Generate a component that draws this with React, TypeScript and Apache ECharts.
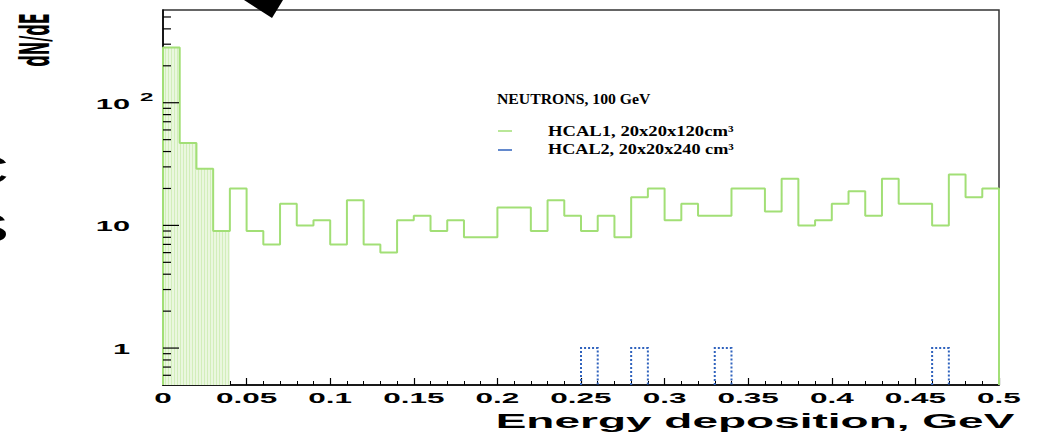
import React, { useEffect, useRef } from 'react';
import * as echarts from 'echarts';

// ---- data ----
const binWidth = 0.01;
const hcal1Counts = [
  282, 47, 29, 9, 20, 9, 7, 15, 10, 11,
  7, 16, 7, 6, 11, 12, 9, 11, 8, 8,
  14, 14, 9, 16, 12, 9, 12, 8, 17, 20,
  11, 15, 12, 12, 20, 20, 13, 24, 10, 11,
  15, 19, 12, 24, 15, 15, 10, 26, 17, 20,
];
const hcal2Counts = [
  0, 0, 0, 0, 0, 0, 0, 0, 0, 0,
  0, 0, 0, 0, 0, 0, 0, 0, 0, 0,
  0, 0, 0, 0, 0, 1, 0, 0, 1, 0,
  0, 0, 0, 1, 0, 0, 0, 0, 0, 0,
  0, 0, 0, 0, 0, 0, 1, 0, 0, 0,
];
const filledBins = 4;
const xTickValues = [0, 0.05, 0.1, 0.15, 0.2, 0.25, 0.3, 0.35, 0.4, 0.45, 0.5];
const xTickLabels = ['0', '0.05', '0.1', '0.15', '0.2', '0.25', '0.3', '0.35', '0.4', '0.45', '0.5'];
const yTickValues = [1, 10, 100];
const yTickLabels = ['1', '10', '10'];
const yTickSup = ['', '', '2'];
const yMinorTicks = [0.6, 0.7, 0.8, 0.9, 2, 3, 4, 5, 6, 7, 8, 9, 20, 30, 40, 50, 60, 70, 80, 90, 200, 300, 400, 500];
const xMin = 0;
const xMax = 0.5;
const yMin = 0.5;
const yMax = 570;
const titleText = 'NEUTRONS, 100 GeV';
const legendNames = ['HCAL1, 20x20x120cm³', 'HCAL2, 20x20x240 cm³'];
const xAxisTitle = 'Energy deposition, GeV';
const yAxisTitle = 'dN/dE';

const GREEN = '#a2df76';
const BLUE = '#2f62bd';
const SANS = '"Liberation Sans", Arial, sans-serif';
const SERIF = '"Liberation Serif", "Times New Roman", serif';

function outline(counts: number[], n: number) {
  const pts: number[][] = [[0, yMin]];
  for (let i = 0; i < n; i++) {
    pts.push([i * binWidth, counts[i]], [(i + 1) * binWidth, counts[i]]);
  }
  pts.push([n * binWidth, yMin]);
  return pts;
}

function makePattern() {
  const c = document.createElement('canvas');
  c.width = 3;
  c.height = 4;
  const ctx = c.getContext('2d')!;
  ctx.fillStyle = '#eaf7df';
  ctx.fillRect(0, 0, 3, 4);
  ctx.fillStyle = '#d2eebb';
  ctx.fillRect(0, 0, 1, 4);
  return c;
}

export default function App() {
  const ref = useRef<HTMLDivElement>(null);
  useEffect(() => {
    if (!ref.current) return;
    const chart = echarts.init(ref.current, undefined, { renderer: 'svg' });
    const blueBins = hcal2Counts
      .map((c, i) => [i * binWidth, (i + 1) * binWidth, c])
      .filter((d) => d[2] > 0);

    chart.setOption({
      animation: false,
      backgroundColor: '#fff',
      grid: {
        left: 163, right: 39, top: 10, bottom: 55,
        show: true, borderColor: '#333', borderWidth: 1.5,
      },
      xAxis: {
        type: 'value', min: xMin, max: xMax, interval: 0.05,
        axisLine: { lineStyle: { color: '#000', width: 1.5 } },
        axisTick: { inside: true, length: 7, lineStyle: { color: '#000', width: 1.2 } },
        minorTick: { show: true, splitNumber: 5, length: 4, lineStyle: { color: '#000', width: 1 } },
        axisLabel: { show: false },
        splitLine: { show: false },
      },
      yAxis: {
        type: 'log', logBase: 10, min: yMin, max: yMax,
        axisLine: { show: true, lineStyle: { color: '#000', width: 1.5 } },
        axisTick: { show: false },
        axisLabel: { show: false },
        splitLine: { show: false },
      },
      series: [
        {
          name: 'fill', type: 'line', data: outline(hcal1Counts, filledBins),
          showSymbol: false, symbol: 'none',
          lineStyle: { width: 0, opacity: 0 },
          areaStyle: { origin: 'start', color: { image: makePattern(), repeat: 'repeat' }, opacity: 1 },
          z: 2, silent: true,
        },
        {
          name: legendNames[0], type: 'line', data: outline(hcal1Counts, hcal1Counts.length),
          showSymbol: false, symbol: 'none',
          lineStyle: { color: GREEN, width: 2 }, z: 3,
        },
        {
          name: legendNames[1], type: 'custom', coordinateSystem: 'cartesian2d',
          data: blueBins, clip: false, z: 4,
          renderItem: (params: any, api: any) => {
            const x0 = api.value(0), x1 = api.value(1), v = api.value(2);
            const a = api.coord([x0, yMin]);
            const b = api.coord([x0, v]);
            const c = api.coord([x1, v]);
            const d = api.coord([x1, yMin]);
            return {
              type: 'polyline',
              shape: { points: [a, b, c, d] },
              style: { stroke: BLUE, lineWidth: 2, lineDash: [2, 2], fill: null },
            };
          },
        },
        {
          name: 'ytickmarks', type: 'custom', coordinateSystem: 'cartesian2d',
          data: [...yTickValues.map((v) => [xMin, v, 16]), ...yMinorTicks.map((v) => [xMin, v, 8])],
          clip: false, z: 6, silent: true,
          renderItem: (params: any, api: any) => {
            const p = api.coord([api.value(0), api.value(1)]);
            const len = api.value(2);
            return {
              type: 'line',
              shape: { x1: p[0], y1: p[1], x2: p[0] + len, y2: p[1] },
              style: { stroke: '#000', lineWidth: 1.2 },
            };
          },
        },
        {
          name: 'xlabels', type: 'custom', coordinateSystem: 'cartesian2d',
          data: xTickValues.map((v) => [v, yMin]), clip: false, z: 6, silent: true,
          renderItem: (params: any, api: any) => {
            const i = params.dataIndex;
            const p = api.coord([xTickValues[i], yMin]);
            return {
              type: 'text', x: p[0], y: p[1] + 13, scaleX: 2.1,
              style: {
                text: xTickLabels[i], fill: '#000', font: `bold 15px ${SANS}`,
                align: 'center', verticalAlign: 'middle',
              },
            };
          },
        },
        {
          name: 'ylabels', type: 'custom', coordinateSystem: 'cartesian2d',
          data: yTickValues.map((v) => [xMin, v]), clip: false, z: 6, silent: true,
          renderItem: (params: any, api: any) => {
            const i = params.dataIndex;
            const p = api.coord([xMin, yTickValues[i]]);
            const children: any[] = [
              {
                type: 'text', x: p[0] - 33, y: p[1] + 1, scaleX: 2.2,
                style: {
                  text: yTickLabels[i], fill: '#000', font: `bold 14px ${SANS}`,
                  align: 'right', verticalAlign: 'middle',
                },
              },
            ];
            if (yTickSup[i]) {
              children.push({
                type: 'text', x: p[0] - 23, y: p[1] - 6, scaleX: 2.2,
                style: {
                  text: yTickSup[i], fill: '#000', font: `bold 11px ${SANS}`,
                  align: 'left', verticalAlign: 'middle',
                },
              });
            }
            return { type: 'group', children };
          },
        },
      ],
      graphic: [
        {
          type: 'polygon', shape: { points: [[244, 0], [283, 0], [272, 18]] },
          style: { fill: '#000' }, z: 10,
        },
        {
          type: 'text', x: 9, y: 170, scaleX: 1.6,
          style: { text: 'C', font: `40px ${SANS}`, fill: '#000', align: 'right', verticalAlign: 'middle' },
        },
        {
          type: 'text', x: 9, y: 228, scaleX: 1.6,
          style: { text: 'S', font: `40px ${SANS}`, fill: '#000', align: 'right', verticalAlign: 'middle' },
        },
        {
          type: 'text', x: 35, y: 40, rotation: Math.PI / 2, scaleY: 2.3,
          style: {
            text: yAxisTitle, font: `bold 18px "Liberation Sans Narrow", "DejaVu Sans Condensed", ${SANS}`,
            fill: '#000', align: 'center', verticalAlign: 'middle',
          },
        },
        {
          type: 'text', x: 755, y: 421, scaleX: 2.3,
          style: { text: xAxisTitle, font: `bold 20px ${SANS}`, fill: '#000', align: 'center', verticalAlign: 'middle' },
        },
        {
          type: 'text', x: 497, y: 99, scaleX: 1.05,
          style: { text: titleText, font: `bold 15px ${SERIF}`, fill: '#000', align: 'left', verticalAlign: 'middle' },
        },
        {
          type: 'line', shape: { x1: 498, y1: 131, x2: 512, y2: 131 },
          style: { stroke: GREEN, lineWidth: 1.5 },
        },
        {
          type: 'text', x: 548, y: 131, scaleX: 1.33,
          style: { text: legendNames[0], font: `bold 14px ${SERIF}`, fill: '#000', align: 'left', verticalAlign: 'middle' },
        },
        {
          type: 'line', shape: { x1: 498, y1: 150, x2: 512, y2: 150 },
          style: { stroke: BLUE, lineWidth: 1.5 },
        },
        {
          type: 'text', x: 548, y: 150, scaleX: 1.3,
          style: { text: legendNames[1], font: `bold 14px ${SERIF}`, fill: '#000', align: 'left', verticalAlign: 'middle' },
        },
      ],
    });
    return () => chart.dispose();
  }, []);
  return (
    <div
      ref={ref}
      style={{ position: 'fixed', left: 0, top: 0, width: 1038, height: 440, background: '#fff' }}
    />
  );
}
